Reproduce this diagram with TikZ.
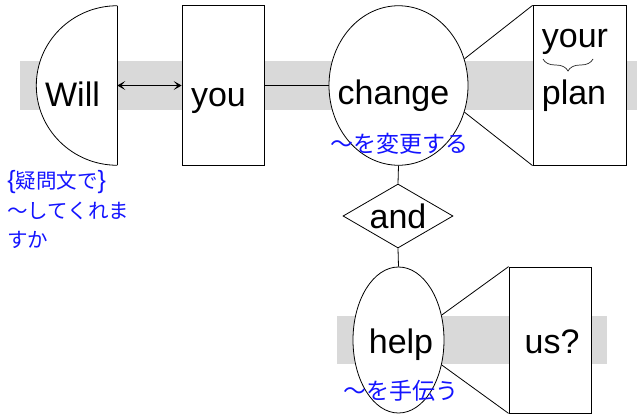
\documentclass[tikz,border=0pt]{standalone}
\usepackage{fontspec}
\setmainfont{Liberation Sans}
\newfontfamily\jp{Noto Sans CJK JP}
\newfontfamily\latinbr{Liberation Sans}
\usetikzlibrary{shapes.geometric,arrows.meta,decorations.pathreplacing}
\definecolor{jpblue}{RGB}{20,20,255}
\newcommand{\jlb}{{\latinbr\fontsize{25}{29.5}\selectfont\{}}
\newcommand{\jrb}{{\latinbr\fontsize{25}{29.5}\selectfont\}}}
\begin{document}
\begin{tikzpicture}[x=1pt,y=-1pt,line width=0.8pt,
  box/.style={draw,rectangle,fill=white,inner sep=0pt},
  ell/.style={draw,ellipse,fill=white,inner sep=0pt},
  dia/.style={draw,diamond,fill=white,inner sep=0pt},
  word/.style={font=\fontsize{34}{40}\selectfont,inner sep=0pt,anchor=base},
  gloss/.style={text=jpblue,font=\jp\fontsize{23}{29}\selectfont,inner sep=0pt},
  side/.style={text=jpblue,font=\jp\fontsize{20.5}{29.5}\selectfont,inner sep=0pt,align=left,anchor=north west},
  band/.style={fill=black!15},
  link/.style={draw,line width=0.8pt}]
\useasboundingbox (0,0) rectangle (637,416);
% gray bands
\fill[band] (20,61) rectangle (637,110);
\fill[band] (337,316) rectangle (607,364);
% Will half ellipse
\begin{scope}
  \clip (30,0) rectangle (117.3,200);
  \node[ell,minimum width=162,minimum height=159.5] (will) at (117.3,85.5) {};
\end{scope}
\draw (117.3,5.7) -- (117.3,165.2);
\coordinate (willedge) at (117.3,85.5);
% boxes and ellipses
\node[box,minimum width=82,minimum height=159.5] (you) at (223,85.5) {};
\node[ell,minimum width=139,minimum height=159.5] (change) at (398.5,85.5) {};
\node[box,minimum width=93,minimum height=159.5] (plan) at (579.5,85.5) {};
\node[dia,minimum width=110,minimum height=64] (and) at (398,216) {};
\node[ell,minimum width=91,minimum height=146] (help) at (398.5,340) {};
\node[box,minimum width=82,minimum height=146] (us) at (550,340) {};
% connectors
\draw[line width=0.9pt,{Stealth[length=8pt,width=9pt,inset=4pt]}-{Stealth[length=8pt,width=9pt,inset=4pt]}] (willedge) -- (you.west);
\draw[link] (you.east) -- (change.west);
\draw[link] (change.22) -- (plan.north west);
\draw[link] (change.-22) -- (plan.south west);
\draw[link] (change.south) -- (and.north);
\draw[link] (and.south) -- (help.north);
\draw[link] (help.30) -- (us.north west);
\draw[link] (help.-30) -- (us.south west);
% words
\node[word] (twill) at (72.5,106) {Will};
\node[word] (tyou) at (218.5,106) {you};
\node[word] (tchange) at (393.5,104) {change};
\node[word] (tyour) at (575,47) {your};
\node[word] (tplan) at (574,104) {plan};
\node[word] (tand) at (398,228) {and};
\node[word] (thelp) at (401,353) {help};
\node[word] (tus) at (552,353) {us?};
% brace under "your"
\draw[black!85,line width=0.7pt,decorate,decoration={brace,amplitude=12pt,mirror}] (543,59) -- (593,59);
% glosses
\node[gloss] (gchange) at (399.5,144) {～を変更する};
\node[gloss] (ghelp) at (401,391) {～を手伝う};
\node[side] (gwill) at (7,170) {\jlb 疑問文で\jrb\\～してくれま\\すか};
\end{tikzpicture}
\end{document}
